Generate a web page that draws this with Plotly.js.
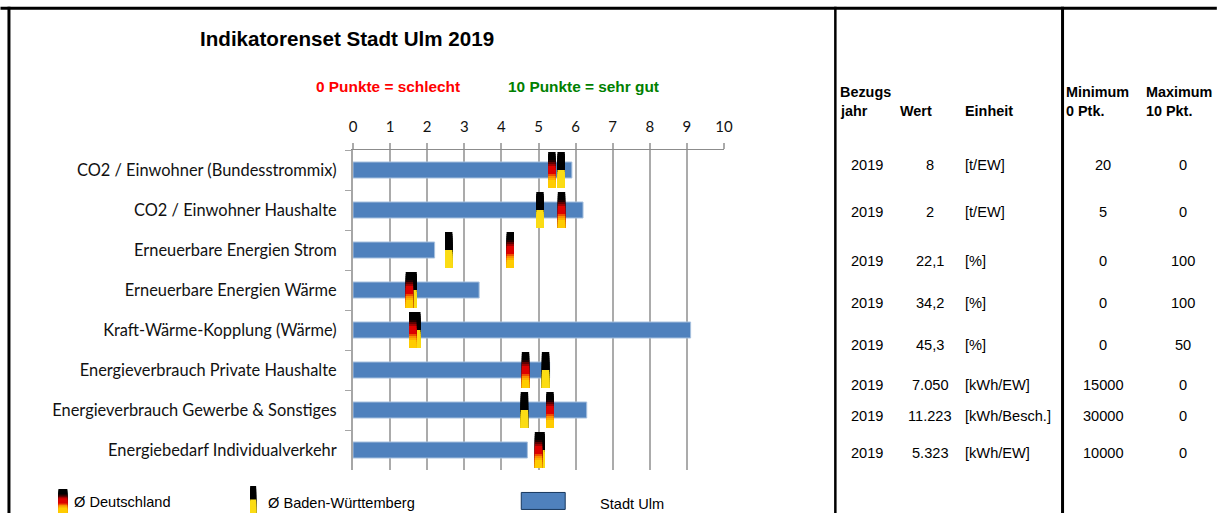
<!DOCTYPE html>
<html>
<head>
<meta charset="utf-8">
<script src="https://cdn.plot.ly/plotly-3.0.0.min.js"></script>
<style>html,body{margin:0;padding:0;background:#fff;overflow:hidden}#chart{width:1218px;height:513px}</style>
</head>
<body>
<div id="chart"></div>
<script>
// ---- data ----
const indicators = [
  'CO2 / Einwohner (Bundesstrommix)', 'CO2 / Einwohner Haushalte', 'Erneuerbare Energien Strom',
  'Erneuerbare Energien Wärme', 'Kraft-Wärme-Kopplung (Wärme)', 'Energieverbrauch Private Haushalte',
  'Energieverbrauch Gewerbe & Sonstiges', 'Energiebedarf Individualverkehr'
];
const stadtUlm = [5.9, 6.2, 2.2, 3.4, 9.1, 5.3, 6.3, 4.7];
const deutschland = [5.36, 5.62, 4.24, 1.52, 1.61, 4.65, 5.31, 5.0];
const badenWuerttemberg = [5.61, 5.04, 2.58, 1.62, 1.72, 5.19, 4.62, 5.07];
const jahr = ['2019','2019','2019','2019','2019','2019','2019','2019'];
const wert = ['8','2','22,1','34,2','45,3','7.050','11.223','5.323'];
const einheit = ['[t/EW]','[t/EW]','[%]','[%]','[%]','[kWh/EW]','[kWh/Besch.]','[kWh/EW]'];
const minimum = ['20','5','0','0','0','15000','30000','10000'];
const maximum = ['0','0','100','100','50','0','0','0'];
const xTicks = [0,1,2,3,4,5,6,7,8,9,10];

// ---- style ----
const deBands = ['#000000','#000000','#000000','#000000','#200000','#600000','#a00000','#dd0000',
  '#dd0000','#dd0000','#dd0000','#ee5000','#f89000','#fcb000','#ffcc00','#ffcc00','#ffcc00','#ffcc00'];
const bwBands = ['#000000','#000000','#000000','#000000','#000000','#000000','#000000','#000000','#000000','#FBDC14',
  '#FBDC14','#FBDC14','#FBDC14','#FBDC14','#FBDC14','#FBDC14','#FBDC14','#FBDC14'];
const W = 1218, H = 513;
const plot = {l: 353, r: 724.5, t: 149.5, b: 470};
const rowY = [165, 212, 261, 303, 345, 385, 416, 453];
const markerUnits = 0.2, markerSpan = 0.9;

const px = x => (x - plot.l) / (plot.r - plot.l);
const py = y => (plot.b - y) / (plot.b - plot.t);

// each band runs to the marker's lower end and the next band paints over it, so no seams appear
function bandTraces(values, bands) {
  const h = markerSpan / bands.length;
  return bands.map((c, k) => ({
    type: 'bar', orientation: 'h', y: indicators,
    x: values.map(() => markerUnits),
    base: values.map(v => v - markerUnits / 2),
    width: markerSpan - k * h, offset: -markerSpan / 2 + k * h,
    marker: {color: c, line: {width: 0}},
    hoverinfo: 'skip', showlegend: false
  }));
}

const traces = [
  {type: 'bar', orientation: 'h', y: indicators, x: stadtUlm, width: 0.4,
   marker: {color: '#4F81BD', line: {color: '#A7C0DE', width: 1}}, name: 'Stadt Ulm', showlegend: false},
  ...bandTraces(badenWuerttemberg, bwBands),
  ...bandTraces(deutschland, deBands)
];

const shapes = [];
const line = (x0, y0, x1, y1, w) => shapes.push({type: 'line', xref: 'paper', yref: 'paper', layer: 'above',
  x0: px(x0), y0: py(y0), x1: px(x1), y1: py(y1), line: {color: '#000', width: w}});
line(0, 7.5, W, 7.5, 3);
line(8.5, 6, 8.5, H, 3);
line(836, 6, 836, H, 2.5);
line(1063.5, 6, 1063.5, H, 3);

// legend swatches
function swatch(x0, x1, y0, y1, bands) {
  const h = (y1 - y0) / bands.length;
  bands.forEach((c, k) => shapes.push({type: 'rect', xref: 'paper', yref: 'paper', layer: 'above',
    x0: px(x0), x1: px(x1), y0: py(y0 + k * h), y1: py(y1), line: {width: 0}, fillcolor: c}));
}
swatch(58, 67, 489, 513, deBands);
swatch(250, 256, 486, 513, bwBands);
shapes.push({type: 'rect', xref: 'paper', yref: 'paper', layer: 'above',
  x0: px(521.5), x1: px(565.5), y0: py(492.5), y1: py(509.5), fillcolor: '#4F81BD', line: {color: '#17375E', width: 1}});

const annotations = [];
function label(text, x, y, size, opts = {}) {
  annotations.push({xref: 'paper', yref: 'paper', x: px(x), y: py(y), text, showarrow: false,
    xanchor: opts.anchor || 'left', yanchor: 'middle', borderpad: 0,
    font: {family: 'Liberation Sans, Arial, sans-serif', size, color: opts.color || '#000'}});
}
const b = s => '<b>' + s + '</b>';
label(b('Indikatorenset Stadt Ulm 2019'), 199, 37.5, 20.6);
label(b('0 Punkte = schlecht'), 315, 85.5, 15.4, {color: '#FF0000'});
label(b('10 Punkte = sehr gut'), 507, 85.5, 15.4, {color: '#008000'});
label(b('Bezugs'), 840, 91, 14.4);
label(b('jahr'), 840, 110, 14.4);
label(b('Wert'), 900, 110, 14.4);
label(b('Einheit'), 965, 110, 14.4);
label(b('Minimum'), 1066, 91, 14.4);
label(b('0 Ptk.'), 1066, 110, 14.4);
label(b('Maximum'), 1146, 91, 14.4);
label(b('10 Pkt.'), 1146, 110, 14.4);
indicators.forEach((_, i) => {
  label(jahr[i], 867.5, rowY[i], 14.6, {anchor: 'center'});
  label(wert[i], 931, rowY[i], 14.6, {anchor: 'center'});
  label(einheit[i], 965, rowY[i], 14.6);
  label(minimum[i], 1104.5, rowY[i], 14.6, {anchor: 'center'});
  label(maximum[i], 1184, rowY[i], 14.6, {anchor: 'center'});
});
label('Ø Deutschland', 73, 502, 14.6);
label('Ø Baden-Württemberg', 267, 503, 14.6);
label('Stadt Ulm', 599, 504, 14.6);

const layout = {
  width: W, height: H, showlegend: false, barmode: 'overlay',
  paper_bgcolor: '#fff', plot_bgcolor: '#fff',
  margin: {l: plot.l, r: W - plot.r, t: plot.t, b: H - plot.b, pad: 0},
  font: {family: 'Lato, sans-serif', color: '#111'},
  xaxis: {
    side: 'top', range: [0, 10], tickvals: xTicks, ticktext: xTicks.map(String), tickmode: 'array',
    showgrid: true, gridcolor: '#ABABAB', gridwidth: 2, zeroline: false,
    showline: true, linecolor: '#8C8C8C', linewidth: 1,
    ticks: 'outside', ticklen: 6, tickcolor: '#ABABAB', tickwidth: 2, ticklabelstandoff: 5,
    tickfont: {size: 15, family: 'Lato, sans-serif', color: '#111'}
  },
  yaxis: {
    type: 'category', autorange: false, range: [7.5, -0.5], categoryorder: 'array', categoryarray: indicators,
    tickson: 'boundaries', ticks: 'outside', ticklen: 6, tickcolor: '#A6A6A6', tickwidth: 1,
    showline: true, linecolor: '#A6A6A6', linewidth: 2, showgrid: false, zeroline: false, ticklabelstandoff: 11,
    tickfont: {size: 16.4, family: 'Lato, sans-serif', color: '#111'}, automargin: false
  },
  shapes, annotations
};
Plotly.newPlot('chart', traces, layout, {displayModeBar: false, staticPlot: true});
</script>
</body>
</html>
